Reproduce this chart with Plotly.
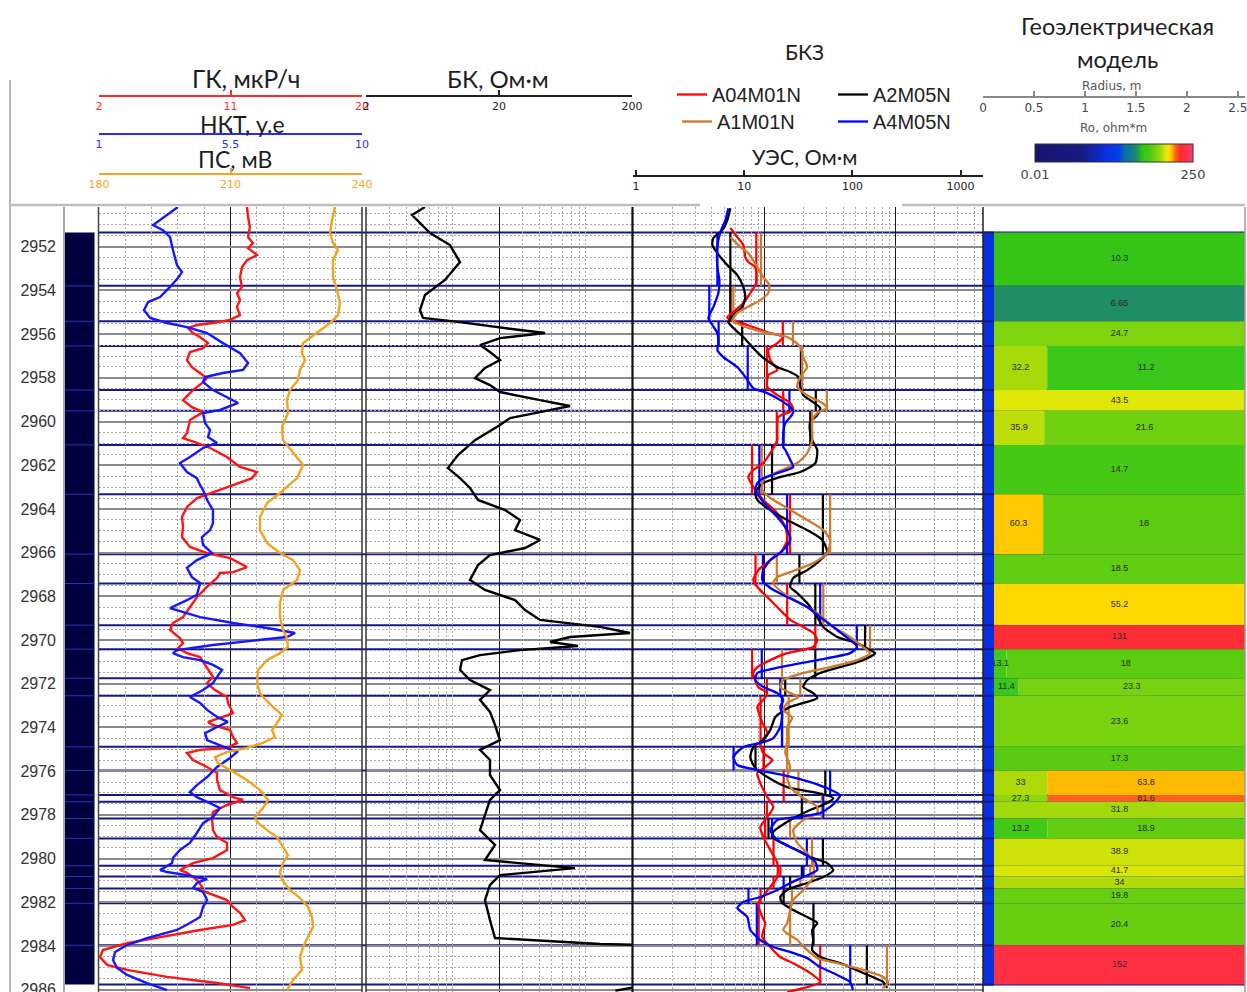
import math
import plotly.graph_objects as go
from plotly.colors import sample_colorscale

W, H = 1247, 992


def px(x):
    return x / W


def py(y):
    return 1 - y / H


# ---------------- depth window ----------------
DEPTH_TOP, DEPTH_BOTTOM = 2950.18, 2986.11

# ---------------- track 1: GK, NKT, PS (depth, value) ----------------
GK = [(2950.18, 12.13), (2950.64, 12.20), (2951.10, 12.33), (2951.56, 12.20), (2951.83, 12.54), (2952.06, 12.20),
      (2952.38, 12.81), (2952.61, 12.13), (2952.93, 11.79), (2953.39, 11.65), (2953.84, 11.79), (2954.12, 11.44),
      (2954.44, 11.65), (2954.76, 11.44), (2955.13, 11.65), (2955.35, 10.97), (2955.49, 9.80), (2955.58, 8.71),
      (2955.72, 8.09), (2955.95, 8.43), (2956.13, 8.91), (2956.41, 9.46), (2956.64, 9.12), (2956.82, 8.23),
      (2957.19, 8.02), (2957.51, 8.36), (2957.78, 8.91), (2958.01, 9.39), (2958.24, 9.05), (2958.56, 8.43),
      (2959.02, 7.75), (2959.34, 8.36), (2959.57, 9.12), (2959.93, 8.23), (2960.53, 8.02), (2960.76, 7.75),
      (2960.98, 8.71), (2961.21, 9.60), (2961.62, 10.76), (2962.08, 11.65), (2962.31, 12.81), (2962.59, 12.47),
      (2962.91, 11.17), (2963.23, 9.80), (2963.50, 8.71), (2963.91, 8.02), (2964.37, 7.68), (2964.83, 7.75),
      (2965.29, 7.68), (2965.74, 8.23), (2966.02, 9.39), (2966.25, 10.97), (2966.66, 12.13), (2966.89, 11.17),
      (2966.93, 10.28), (2967.16, 10.08), (2967.57, 9.39), (2968.03, 8.71), (2968.49, 8.23), (2968.95, 7.75),
      (2969.22, 7.06), (2969.54, 6.86), (2969.91, 7.54), (2970.14, 7.75), (2970.37, 7.41), (2970.60, 8.02),
      (2970.78, 8.91), (2971.24, 9.39), (2971.69, 9.80), (2971.97, 9.39), (2972.29, 9.94), (2972.61, 10.76),
      (2972.88, 10.83), (2973.34, 11.17), (2973.52, 10.49), (2973.75, 9.46), (2973.89, 9.80), (2974.12, 10.97),
      (2974.44, 11.17), (2974.71, 11.44), (2974.94, 10.76), (2975.03, 8.91), (2975.17, 8.02), (2975.49, 8.43),
      (2975.81, 9.39), (2976.09, 10.08), (2976.41, 10.08), (2976.87, 10.28), (2977.19, 11.17), (2977.32, 11.86),
      (2977.55, 10.76), (2977.87, 9.80), (2978.15, 9.73), (2978.70, 9.80), (2979.02, 10.08), (2979.29, 10.76),
      (2979.61, 10.76), (2979.98, 9.80), (2980.21, 8.43), (2980.53, 7.54), (2980.66, 8.02), (2980.98, 8.71),
      (2981.30, 9.05), (2981.44, 8.91), (2981.67, 9.80), (2981.90, 10.76), (2982.22, 11.17), (2982.49, 11.65),
      (2982.82, 11.99), (2983.04, 11.17), (2983.27, 8.91), (2983.59, 6.17), (2983.87, 3.92), (2984.19, 2.27),
      (2984.51, 2.07), (2984.87, 2.55), (2985.10, 3.92), (2985.42, 6.65), (2985.70, 10.08), (2985.93, 12.33)]

NKT = [(2950.18, 3.70), (2951.01, 2.85), (2951.24, 3.19), (2951.56, 3.43), (2952.15, 3.53), (2952.84, 3.67),
       (2953.16, 3.84), (2953.43, 3.70), (2953.84, 3.43), (2954.30, 3.09), (2954.53, 2.68), (2954.90, 2.54),
       (2955.26, 2.75), (2955.49, 3.33), (2955.68, 4.01), (2955.95, 4.70), (2956.41, 5.24), (2956.87, 5.83),
       (2957.32, 6.10), (2957.64, 5.93), (2957.78, 5.24), (2957.96, 4.63), (2958.19, 4.56), (2958.56, 4.90),
       (2959.15, 5.76), (2959.47, 5.14), (2959.61, 4.56), (2960.07, 4.63), (2960.39, 4.80), (2960.71, 4.73),
       (2960.98, 5.04), (2961.21, 4.56), (2961.62, 4.11), (2961.90, 3.77), (2962.31, 4.01), (2962.59, 4.35),
       (2962.91, 4.46), (2963.13, 4.56), (2963.59, 4.70), (2964.05, 4.90), (2964.65, 4.90), (2964.97, 4.80),
       (2965.29, 4.52), (2965.65, 4.56), (2966.02, 4.87), (2966.34, 4.35), (2966.70, 4.01), (2967.12, 4.18),
       (2967.39, 4.46), (2967.94, 4.35), (2968.17, 4.01), (2968.54, 3.43), (2968.95, 4.46), (2969.22, 5.59),
       (2969.45, 6.75), (2969.68, 7.71), (2969.86, 7.43), (2970.05, 6.17), (2970.23, 4.90), (2970.46, 3.67),
       (2970.60, 3.53), (2970.78, 3.87), (2970.92, 4.46), (2971.14, 4.90), (2971.37, 5.21), (2971.69, 5.04),
       (2971.97, 4.90), (2972.29, 4.56), (2972.61, 4.11), (2972.88, 4.46), (2973.20, 4.70), (2973.52, 5.04),
       (2973.75, 5.41), (2973.98, 5.04), (2974.26, 4.63), (2974.58, 4.70), (2974.81, 5.14), (2975.13, 5.72),
       (2975.40, 5.48), (2975.81, 5.04), (2976.27, 4.70), (2976.64, 4.35), (2976.96, 4.11), (2977.19, 4.35),
       (2977.41, 4.70), (2977.69, 5.14), (2978.10, 4.90), (2978.38, 4.56), (2978.83, 4.35), (2979.29, 4.11),
       (2979.61, 3.77), (2979.98, 3.53), (2980.21, 3.50), (2980.53, 3.09), (2980.62, 3.33), (2980.76, 4.01),
       (2980.89, 4.46), (2980.94, 4.70), (2981.12, 4.35), (2981.35, 4.22), (2981.53, 4.56), (2981.90, 4.70),
       (2982.22, 4.56), (2982.68, 4.46), (2982.95, 4.11), (2983.27, 3.67), (2983.64, 2.64), (2983.96, 1.96),
       (2984.28, 1.55), (2984.65, 1.48), (2985.01, 1.62), (2985.33, 1.96), (2985.70, 2.64), (2986.02, 3.33)]

PS = [(2950.18, 233.84), (2950.78, 233.16), (2951.37, 232.70), (2951.83, 233.38), (2952.15, 234.53),
      (2952.61, 233.38), (2953.39, 233.38), (2953.98, 234.30), (2954.58, 234.98), (2955.13, 234.53),
      (2955.49, 232.70), (2955.95, 229.73), (2956.41, 226.54), (2956.87, 226.31), (2957.19, 227.00),
      (2957.64, 225.86), (2958.10, 225.40), (2958.56, 223.57), (2959.02, 222.89), (2959.61, 223.12),
      (2960.25, 221.75), (2960.85, 221.98), (2961.44, 224.26), (2961.99, 226.54), (2962.59, 225.17),
      (2963.27, 221.29), (2963.73, 218.33), (2964.37, 216.73), (2964.97, 216.73), (2965.56, 218.33),
      (2966.02, 221.29), (2966.34, 224.26), (2966.80, 225.86), (2967.25, 225.17), (2967.71, 221.98),
      (2968.31, 221.29), (2968.95, 221.29), (2969.54, 221.98), (2969.91, 222.89), (2970.32, 223.12),
      (2970.60, 221.29), (2970.92, 218.33), (2971.37, 216.27), (2971.97, 216.05), (2972.43, 216.73),
      (2972.61, 217.41), (2973.06, 219.70), (2973.43, 221.75), (2973.79, 220.61), (2974.12, 219.47),
      (2974.44, 220.15), (2974.71, 217.41), (2974.94, 213.76), (2975.13, 209.20), (2975.36, 206.46),
      (2975.63, 207.15), (2975.95, 209.89), (2976.41, 213.76), (2976.87, 216.73), (2977.32, 218.56),
      (2977.69, 217.41), (2978.10, 215.59), (2978.33, 216.05), (2978.70, 218.33), (2979.02, 220.61),
      (2979.48, 221.98), (2979.85, 223.12), (2980.21, 221.98), (2980.62, 221.29), (2980.98, 221.75),
      (2981.44, 223.57), (2981.81, 225.86), (2982.22, 227.68), (2982.68, 228.59), (2983.13, 228.82),
      (2983.59, 227.68), (2984.05, 226.54), (2984.51, 225.86), (2985.10, 226.31), (2985.56, 224.26),
      (2986.02, 222.89)]

# ---------------- track 2: BK, Ohm*m ----------------
BK = [(2950.18, 5.55), (2950.55, 4.44), (2951.37, 6.06), (2951.92, 8.56), (2952.70, 10.18), (2953.52, 7.85),
      (2954.21, 5.55), (2954.90, 5.09), (2955.26, 5.37), (2955.45, 10.18), (2955.81, 28.77), (2955.95, 44.4),
      (2956.18, 20.35), (2956.50, 14.39), (2956.82, 17.11), (2957.19, 20.35), (2957.55, 15.69), (2958.01, 13.20),
      (2958.33, 17.11), (2958.65, 20.35), (2959.02, 40.7), (2959.29, 68.4), (2959.57, 40.7), (2959.84, 24.2),
      (2960.16, 20.35), (2960.85, 13.20), (2961.53, 9.83), (2962.13, 8.27), (2962.59, 10.18), (2963.04, 12.11),
      (2963.59, 13.90), (2964.05, 22.2), (2964.51, 28.77), (2964.97, 26.4), (2965.42, 40.7), (2965.79, 31.4),
      (2966.11, 17.11), (2966.57, 13.90), (2967.25, 12.11), (2967.71, 15.69), (2968.17, 26.4), (2968.63, 31.4),
      (2969.08, 40.7), (2969.40, 114.9), (2969.68, 193.0), (2969.86, 68.4), (2970.09, 48.4), (2970.27, 78.5),
      (2970.46, 28.77), (2970.69, 14.39), (2970.92, 10.54), (2971.37, 10.18), (2971.83, 12.11), (2972.29, 17.11),
      (2972.74, 14.39), (2973.29, 17.11), (2973.89, 18.66), (2974.58, 20.35), (2975.03, 14.39), (2975.49, 17.11),
      (2976.18, 17.11), (2976.87, 20.35), (2977.32, 17.11), (2978.01, 15.69), (2978.70, 14.39), (2979.38, 18.66),
      (2980.07, 15.69), (2980.44, 74.5), (2980.76, 20.35), (2981.21, 17.11), (2981.90, 15.69), (2982.82, 17.11),
      (2983.64, 18.66), (2983.91, 114.9), (2984.00, 400.0), (2985.60, 400.0), (2986.05, 150.0)]

# ---------------- track 3: BKZ probes, Ohm*m ----------------
A04M01N = [(2951.14, 5.53), (2951.56, 6.25), (2951.92, 6.94), (2952.47, 7.19), (2952.70, 7.58), (2952.93, 8.57),
           (2953.66, 8.72), (2954.12, 7.85), (2954.58, 6.94), (2954.99, 5.83), (2955.22, 5.24), (2955.35, 5.53),
           (2955.58, 7.45), (2955.95, 11.15), (2956.13, 14.01), (2956.41, 12.61), (2956.73, 10.76), (2957.19, 11.15),
           (2957.64, 12.61), (2957.87, 10.76), (2958.42, 10.58), (2958.79, 12.61), (2959.15, 15.83), (2959.47, 16.69),
           (2959.61, 15.02), (2959.80, 12.83), (2960.53, 12.61), (2960.85, 12.61), (2961.44, 11.15), (2961.90, 9.86),
           (2962.22, 8.27), (2962.54, 7.58), (2962.99, 8.27), (2963.59, 9.86), (2964.19, 12.61), (2964.83, 14.51),
           (2965.42, 15.02), (2966.02, 13.29), (2966.34, 11.15), (2966.80, 9.03), (2967.25, 8.27), (2967.57, 8.88),
           (2968.17, 11.15), (2968.77, 14.01), (2969.08, 15.83), (2969.40, 19.89), (2969.68, 23.70), (2970.00, 25.42),
           (2970.32, 23.70), (2970.60, 15.02), (2970.92, 11.15), (2971.24, 8.88), (2971.51, 8.27), (2972.15, 9.03),
           (2972.43, 10.58), (2972.74, 9.86), (2973.06, 8.88), (2973.52, 9.36), (2973.79, 9.69), (2974.26, 10.58),
           (2974.71, 9.36), (2975.17, 9.86), (2975.49, 11.55), (2975.81, 10.21), (2976.09, 8.88), (2976.55, 9.36),
           (2977.19, 10.58), (2977.64, 11.75), (2978.10, 10.58), (2978.56, 9.36), (2979.02, 9.86), (2979.61, 11.15),
           (2980.21, 12.61), (2980.85, 12.61), (2981.30, 11.15), (2981.76, 9.69), (2982.04, 9.03), (2982.68, 9.69),
           (2982.95, 10.21), (2983.59, 9.69), (2984.05, 11.15), (2984.51, 13.29), (2984.79, 16.69), (2985.24, 22.48),
           (2985.65, 26.79), (2986.11, 15.02)]

A1M01N = [(2951.56, 5.53), (2952.01, 6.59), (2952.29, 7.58), (2952.93, 8.88), (2953.39, 9.86), (2953.75, 10.96),
          (2954.12, 10.76), (2954.44, 9.36), (2954.76, 7.45), (2955.03, 6.25), (2955.35, 5.73), (2955.58, 6.59),
          (2955.90, 9.86), (2956.13, 15.02), (2956.36, 17.29), (2956.59, 18.87), (2957.05, 19.89), (2957.51, 21.33),
          (2957.96, 18.87), (2958.42, 17.90), (2958.88, 22.48), (2959.15, 27.8), (2959.38, 30.29), (2959.61, 25.42),
          (2959.93, 23.28), (2960.53, 23.28), (2960.85, 23.28), (2961.44, 21.33), (2961.90, 17.90), (2962.31, 12.61),
          (2962.68, 9.86), (2963.13, 9.69), (2963.50, 11.15), (2963.96, 15.02), (2964.51, 21.33), (2964.97, 28.3),
          (2965.42, 31.92), (2966.02, 30.29), (2966.48, 23.70), (2966.89, 15.83), (2967.12, 12.61), (2967.39, 11.75),
          (2967.85, 14.01), (2968.31, 18.87), (2968.77, 25.42), (2969.40, 33.65), (2969.86, 45.35), (2970.32, 56.9),
          (2970.60, 64.4), (2970.92, 51.3), (2971.24, 31.92), (2971.51, 19.89), (2971.83, 14.01), (2972.15, 13.29),
          (2972.43, 15.83), (2972.61, 18.22), (2972.88, 15.02), (2973.20, 14.01), (2973.56, 16.4), (2973.98, 15.02),
          (2974.58, 15.02), (2975.17, 14.51), (2975.81, 15.83), (2976.27, 15.02), (2976.73, 15.83), (2977.23, 19.89),
          (2977.64, 25.42), (2977.92, 25.42), (2978.24, 19.89), (2978.70, 16.69), (2979.29, 17.90), (2979.75, 21.33),
          (2980.21, 23.70), (2980.85, 23.70), (2981.44, 19.89), (2981.90, 16.69), (2982.36, 15.83), (2982.95, 15.02),
          (2983.27, 14.01), (2983.73, 17.90), (2984.19, 21.33), (2984.56, 25.42), (2984.79, 36.10), (2985.10, 56.9),
          (2985.42, 80.9), (2985.65, 88.4), (2985.93, 80.9)]

A2M05N = [(2950.24, 5.53), (2950.78, 5.24), (2951.24, 4.80), (2951.60, 4.10), (2951.92, 4.03), (2952.29, 4.40),
          (2952.84, 5.24), (2953.30, 6.25), (2953.84, 6.94), (2954.30, 7.19), (2954.76, 6.82), (2955.13, 5.83),
          (2955.45, 5.34), (2955.72, 5.83), (2956.13, 6.94), (2956.64, 8.27), (2957.09, 9.86), (2957.51, 12.61),
          (2957.73, 15.83), (2957.96, 18.22), (2958.42, 18.87), (2958.79, 19.89), (2959.11, 23.70), (2959.38, 26.79),
          (2959.70, 25.42), (2960.02, 22.48), (2960.53, 22.48), (2960.85, 23.28), (2961.30, 25.42), (2961.90, 24.6),
          (2962.31, 18.87), (2962.54, 13.29), (2962.82, 9.86), (2963.23, 8.57), (2963.59, 8.88), (2963.96, 10.58),
          (2964.51, 15.02), (2964.97, 21.33), (2965.42, 27.8), (2965.97, 30.29), (2966.34, 26.79), (2966.80, 21.33),
          (2967.16, 16.69), (2967.57, 15.83), (2967.85, 17.90), (2968.31, 21.33), (2968.95, 25.42), (2969.40, 28.3),
          (2969.86, 36.10), (2970.14, 51.3), (2970.46, 64.4), (2970.60, 70.3), (2970.92, 56.9), (2971.24, 38.05),
          (2971.51, 26.79), (2971.83, 21.33), (2972.15, 19.89), (2972.43, 23.70), (2972.66, 25.42), (2972.88, 19.89),
          (2973.06, 15.83), (2973.52, 12.2), (2974.12, 11.15), (2974.58, 9.86), (2974.90, 8.27), (2975.36, 7.85),
          (2975.86, 8.57), (2976.27, 10.58), (2976.73, 15.02), (2977.00, 25.42), (2977.23, 33.65), (2977.46, 30.29),
          (2977.78, 22.48), (2978.24, 15.83), (2978.79, 11.75), (2979.06, 11.75), (2979.47, 15.83), (2979.93, 22.48),
          (2980.21, 30.29), (2980.53, 33.65), (2980.85, 28.3), (2981.12, 21.33), (2981.44, 15.02), (2981.76, 13.29),
          (2982.04, 13.76), (2982.36, 16.69), (2982.68, 21.33), (2982.95, 25.42), (2983.27, 23.28), (2983.73, 23.70),
          (2984.19, 23.28), (2984.51, 26.79), (2984.79, 38.05), (2985.24, 56.9), (2985.65, 80.9), (2985.93, 86.8)]

A4M05N = [(2950.24, 5.34), (2950.78, 5.07), (2951.33, 4.64), (2952.01, 4.40), (2952.93, 4.40), (2953.52, 4.56),
          (2954.12, 4.48), (2954.76, 4.10), (2955.26, 3.76), (2955.58, 4.03), (2955.95, 4.40), (2956.41, 4.48),
          (2956.73, 4.40), (2957.05, 4.89), (2957.51, 6.25), (2957.96, 7.19), (2958.47, 8.27), (2958.70, 10.58),
          (2959.02, 13.29), (2959.34, 15.83), (2959.57, 16.69), (2959.80, 15.83), (2960.07, 14.51), (2960.53, 14.01),
          (2961.17, 14.01), (2961.30, 14.51), (2961.76, 15.83), (2962.08, 16.69), (2962.36, 12.61), (2962.59, 9.86),
          (2962.82, 8.88), (2963.13, 8.57), (2963.68, 9.86), (2964.37, 12.61), (2964.97, 15.02), (2965.42, 15.83),
          (2965.88, 14.01), (2966.34, 11.15), (2966.80, 9.86), (2967.25, 9.69), (2967.62, 11.15), (2968.03, 15.02),
          (2968.49, 21.33), (2968.95, 26.79), (2969.54, 36.10), (2970.32, 51.3), (2970.60, 45.35), (2970.92, 25.42),
          (2971.24, 13.29), (2971.51, 8.88), (2971.83, 8.57), (2972.15, 9.86), (2972.43, 12.61), (2972.74, 14.01),
          (2973.06, 13.29), (2973.43, 13.76), (2973.98, 13.29), (2974.49, 11.75), (2974.67, 9.86), (2974.90, 6.94),
          (2975.36, 5.83), (2975.72, 6.25), (2975.95, 8.88), (2976.18, 14.01), (2976.50, 22.48), (2976.78, 30.29),
          (2977.10, 38.05), (2977.32, 36.10), (2977.64, 31.92), (2977.92, 26.79), (2978.10, 17.90), (2978.24, 12.61),
          (2978.70, 11.15), (2979.15, 12.61), (2979.47, 15.83), (2979.75, 19.89), (2980.16, 24.6), (2980.53, 25.42),
          (2980.85, 19.89), (2981.12, 15.83), (2981.44, 12.61), (2981.76, 9.36), (2981.99, 6.94), (2982.26, 6.25),
          (2982.68, 7.45), (2983.27, 7.85), (2983.73, 9.36), (2984.05, 11.75), (2984.28, 15.83), (2984.56, 21.33),
          (2984.97, 26.79), (2985.33, 36.10), (2985.65, 45.35), (2986.02, 47.6)]

# apparent resistivity of each probe per model layer
STEP_A04M01N = [8.72, 5.53, 13.9, 10.5, 14.0, 12.5, 8.09, 15.8, 8.6, 15.0, 24.6, 8.1, 10.5, 9.4, 9.9,
                14.1, 14.1, 10.5, 10.2, 11.8, 13.3, 11.8, 9.4, 9.1, 26.8]
STEP_A1M01N = [9.47, 5.83, 16.6, 19.5, 30.1, 23.2, 9.6, 31.9, 12.5, 28.3, 64.4, 13.7, 18.9, 15.4, 15.0,
               18.3, 27.6, 27.6, 15.8, 23.2, 22.5, 18.9, 16.3, 15.8, 86.5]
STEP_A2M05N = [5.53, 5.53, 6.8, 19.1, 24.8, 22.5, 11.5, 28.1, 18.6, 24.6, 58.9, 24.6, 14.5, 13.7, 8.6,
               29.3, 19.4, 19.4, 10.8, 28.1, 19.4, 15.8, 14.1, 23.8, 60.8]
STEP_A4M05N = [4.4, 3.82, 4.5, 7.5, 15.6, 14.1, 9.2, 15.0, 9.8, 26.8, 51.0, 9.6, 13.3, 13.7, 5.85,
               31.9, 28.3, 28.3, 11.5, 21.2, 20.0, 14.1, 7.6, 8.8, 45.4]

# ---------------- geoelectric model ----------------
LAYER_BOUNDS = [2951.35, 2953.79, 2955.41, 2956.54, 2958.56, 2959.51, 2961.07, 2963.33, 2966.07, 2967.41,
                2969.32, 2970.42, 2971.75, 2972.55, 2974.89, 2975.97, 2977.09, 2977.40, 2978.17, 2979.08,
                2980.33, 2980.82, 2981.37, 2982.05, 2983.97, 2985.77]
LAYER_RT = [10.3, 6.65, 24.7, 11.2, 43.5, 21.6, 14.7, 18, 18.5, 55.2, 131, 18, 23.3, 23.6, 17.3,
            63.8, 81.6, 31.8, 18.9, 38.9, 41.7, 34, 19.8, 20.4, 152]
ZONE_RHO = [None, None, None, 32.2, None, 35.9, None, 60.3, None, None, None, 13.1, 11.4, None, None,
            33, 27.3, None, 13.2, None, None, None, None, None, None]
ZONE_RADIUS = [None, None, None, 0.63, None, 0.6, None, 0.59, None, None, None, 0.23, 0.35, None, None,
               0.63, 0.63, None, 0.63, None, None, None, None, None, None]
MUD_RHO = 1.0
BOREHOLE_RADIUS = 0.108
RADIUS_MAX = 2.57
RHO_MIN, RHO_MAX = 0.01, 250

RHO_COLORSCALE = [
    [0.000, "rgb(20,20,110)"], [0.300, "rgb(25,26,133)"], [0.450, "rgb(10,48,224)"],
    [0.530, "rgb(0,64,232)"], [0.570, "rgb(10,110,170)"], [0.640, "rgb(30,138,106)"],
    [0.680, "rgb(48,196,22)"], [0.700, "rgb(62,200,26)"], [0.720, "rgb(70,200,20)"],
    [0.740, "rgb(92,204,16)"], [0.770, "rgb(124,212,15)"], [0.795, "rgb(160,216,10)"],
    [0.805, "rgb(184,220,10)"], [0.823, "rgb(216,230,8)"], [0.835, "rgb(232,234,6)"],
    [0.850, "rgb(255,220,0)"], [0.862, "rgb(255,196,0)"], [0.867, "rgb(255,180,0)"],
    [0.889, "rgb(255,96,32)"], [0.920, "rgb(255,42,42)"], [0.950, "rgb(255,48,64)"],
    [1.000, "rgb(255,58,128)"],
]

# ---------------- styling ----------------
C_GK, C_NKT, C_PS = "#ff1414", "#1717ff", "#f4a21c"
C_RED, C_ORANGE, C_BLACK, C_BLUE = "#ff0000", "#d0792a", "#000000", "#0000ff"
LAYER_LINE = "#17178c"
HEAD_FONT = "Lato, Noto Sans, sans-serif"
NUM_FONT = "DejaVu Sans"


def split(pairs):
    return [p[1] for p in pairs], [p[0] for p in pairs]


def rho_color(v):
    t = (math.log10(v) - math.log10(RHO_MIN)) / (math.log10(RHO_MAX) - math.log10(RHO_MIN))
    return sample_colorscale(RHO_COLORSCALE, [min(max(t, 0), 1)])[0]


fig = go.Figure()

# track 1
for pairs, axis, color in [(NKT, "x2", C_NKT), (GK, "x", C_GK), (PS, "x3", C_PS)]:
    xs, ys = split(pairs)
    fig.add_trace(go.Scatter(x=xs, y=ys, xaxis=axis, yaxis="y", mode="lines",
                             line=dict(color=color, width=2.4), showlegend=False, hoverinfo="skip"))

# track 2
xs, ys = split(BK)
fig.add_trace(go.Scatter(x=xs, y=ys, xaxis="x4", yaxis="y", mode="lines",
                         line=dict(color=C_BLACK, width=2.4), showlegend=False, hoverinfo="skip"))

# header scale of the resistivity track
fig.add_trace(go.Scatter(x=[None], y=[None], xaxis="x5", yaxis="y", mode="lines",
                         showlegend=False, hoverinfo="skip"))

# track 3: probe steps per layer, then measured curves
layer_tops = LAYER_BOUNDS[:-1]
layer_bots = LAYER_BOUNDS[1:]
probes = [("A04M01N", A04M01N, STEP_A04M01N, C_RED, "legend"),
          ("A2M05N", A2M05N, STEP_A2M05N, C_BLACK, "legend"),
          ("A1M01N", A1M01N, STEP_A1M01N, C_ORANGE, "legend2"),
          ("A4M05N", A4M05N, STEP_A4M05N, C_BLUE, "legend2")]
for name, curve, steps, color, leg in probes:
    sx, sy = [], []
    for v, t, b in zip(steps, layer_tops, layer_bots):
        sx += [v, v, None]
        sy += [t, b, None]
    fig.add_trace(go.Scatter(x=sx, y=sy, xaxis="x6", yaxis="y", mode="lines",
                             line=dict(color=color, width=2.2), showlegend=False, hoverinfo="skip"))
for name, curve, steps, color, leg in probes:
    xs, ys = split(curve)
    fig.add_trace(go.Scatter(x=xs, y=ys, xaxis="x6", yaxis="y", mode="lines", name=name,
                             line=dict(color=color, width=2.3, shape="spline", smoothing=0.6),
                             legend=leg, hoverinfo="skip"))

# geoelectric model cells
shapes = []
lab_x, lab_y, lab_t = [], [], []
for i, (t, b) in enumerate(zip(layer_tops, layer_bots)):
    r_in = BOREHOLE_RADIUS
    if ZONE_RHO[i] is not None:
        shapes.append(dict(type="rect", xref="x7", yref="y2", x0=BOREHOLE_RADIUS, x1=ZONE_RADIUS[i],
                           y0=t, y1=b, fillcolor=rho_color(ZONE_RHO[i]), line=dict(width=0), layer="between"))
        lab_x.append((BOREHOLE_RADIUS + ZONE_RADIUS[i]) / 2)
        lab_y.append((t + b) / 2)
        lab_t.append(f"{ZONE_RHO[i]:g}")
        r_in = ZONE_RADIUS[i]
    shapes.append(dict(type="rect", xref="x7", yref="y2", x0=r_in, x1=RADIUS_MAX, y0=t, y1=b,
                       fillcolor=rho_color(LAYER_RT[i]), line=dict(width=0), layer="between"))
    lab_x.append((r_in + RADIUS_MAX) / 2)
    lab_y.append((t + b) / 2)
    lab_t.append(f"{LAYER_RT[i]:g}")

fig.add_trace(go.Scatter(x=lab_x, y=lab_y, text=lab_t, mode="text", xaxis="x7", yaxis="y2",
                         textfont=dict(family="Liberation Sans", size=9, color="#2a2a2a"),
                         showlegend=False, hoverinfo="skip"))

# colour scale of the model
lg_min, lg_max = math.log10(RHO_MIN), math.log10(RHO_MAX)
fig.add_trace(go.Scatter(
    x=[None, None], y=[None, None], xaxis="x7", yaxis="y2", mode="markers", showlegend=False,
    marker=dict(color=[lg_min, lg_max], cmin=lg_min, cmax=lg_max, colorscale=RHO_COLORSCALE, showscale=True,
                colorbar=dict(orientation="h", x=px(1114), xanchor="center", y=py(161), yanchor="middle",
                              len=158, lenmode="pixels", thickness=18, thicknessmode="pixels",
                              tickvals=[lg_min, lg_max], ticktext=["0.01", "250"], ticks="",
                              outlinewidth=1, outlinecolor="#333", xpad=0, ypad=0,
                              tickfont=dict(family=NUM_FONT, size=13, color="#444"))),
    hoverinfo="skip"))

# navy interval column and layer boundaries
shapes.append(dict(type="rect", xref="paper", yref="y2", x0=px(65), x1=px(94.5),
                   y0=LAYER_BOUNDS[0], y1=LAYER_BOUNDS[-1], fillcolor="#00003e", line=dict(width=0),
                   layer="between"))
for d in LAYER_BOUNDS[1:-1]:
    shapes.append(dict(type="line", xref="paper", yref="y2", x0=px(65), x1=px(94.5), y0=d, y1=d,
                       line=dict(color="#2536b0", width=1), layer="between"))
for d in LAYER_BOUNDS:
    shapes.append(dict(type="line", xref="paper", yref="y", x0=px(99), x1=px(1245), y0=d, y1=d,
                       line=dict(color=LAYER_LINE, width=2), layer="between"))

# borehole (mud) column of the model, drawn over the cell labels
shapes.append(dict(type="rect", xref="x7", yref="y2", x0=0, x1=BOREHOLE_RADIUS,
                   y0=LAYER_BOUNDS[0], y1=LAYER_BOUNDS[-1], fillcolor=rho_color(MUD_RHO),
                   line=dict(width=0), layer="above"))
for d in LAYER_BOUNDS:
    shapes.append(dict(type="line", xref="x7", yref="y2", x0=0, x1=BOREHOLE_RADIUS, y0=d, y1=d,
                       line=dict(color=LAYER_LINE, width=2), layer="above"))

# frame lines
frame = [
    (10, 80, 10, 992, "#b4b4b4", 2),
    (10, 205, 700, 205, "#bdbdbd", 2.5), (902, 205, 1245, 205, "#bdbdbd", 2.5),
    (64, 207, 64, 992, "#8a8a8a", 1.5), (98.5, 207, 98.5, 992, "#444", 1.5),
    (362, 207, 362, 992, "#333", 1.5), (366, 207, 366, 992, "#333", 1.5),
    (632.5, 207, 632.5, 992, "#111", 2.2), (983, 207, 983, 992, "#222", 1.5),
    (1245, 207, 1245, 992, "#999", 1.5),
]
for x0, y0, x1, y1, c, w in frame:
    shapes.append(dict(type="line", xref="paper", yref="paper", x0=px(x0), y0=py(y0), x1=px(x1), y1=py(y1),
                       line=dict(color=c, width=w), layer="above"))

# header titles
annotations = []
titles = [
    ("ГК, мкР/ч", 246, 79, 24.5), ("НКТ, у.е", 242, 124, 23), ("ПС, мВ", 235, 159, 23),
    ("БК, Ом·м", 498, 79, 24), ("БКЗ", 804, 52, 21), ("УЭС, Ом·м", 805, 157, 21.5),
    ("Геоэлектрическая", 1117, 26, 23.5), ("модель", 1117, 59, 23.5),
]
for text, x, y, size in titles:
    annotations.append(dict(text=text, x=px(x), y=py(y), xref="paper", yref="paper", showarrow=False,
                            xanchor="center", yanchor="middle",
                            font=dict(family=HEAD_FONT, size=size, color="#1e1e1e")))
for text, x, y in [("Radius, m", 1112, 86), ("Ro, ohm*m", 1113, 128)]:
    annotations.append(dict(text=text, x=px(x), y=py(y), xref="paper", yref="paper", showarrow=False,
                            xanchor="center", yanchor="middle", font=dict(family=NUM_FONT, size=12, color="#555")))

MAIN_DOMAIN = [0, py(207)]
grid_minor = dict(showgrid=True, gridcolor="#a9a9a9", gridwidth=1, griddash="2px,2px")


def header_axis(color, position, tickvals, ticktext=None, **kw):
    ax = dict(anchor="free", position=position, side="bottom", tickmode="array", tickvals=tickvals,
              ticks="inside", ticklen=5, tickwidth=1.5, tickcolor=color, showline=True, linecolor=color,
              linewidth=2, tickfont=dict(family=NUM_FONT, size=11, color=color), zeroline=False,
              fixedrange=True, ticklabeloverflow="allow")
    if ticktext is not None:
        ax["ticktext"] = ticktext
    ax.update(kw)
    return ax


log_minor_bk = [3, 4, 5, 6, 7, 8, 9, 30, 40, 50, 60, 70, 80, 90]
log_minor_bkz = [2, 3, 4, 5, 6, 7, 8, 9, 20, 30, 40, 50, 60, 70, 80, 90, 200, 300, 400]
legend_font = dict(family="Liberation Sans", size=20, color="#222")

fig.update_layout(
    width=W, height=H, autosize=False,
    margin=dict(l=0, r=0, t=0, b=0, pad=0, autoexpand=False),
    paper_bgcolor="white", plot_bgcolor="white",
    showlegend=True,
    xaxis=header_axis("#ff2a2a", py(96), [2, 11, 20], domain=[px(99), px(362)], range=[2, 20],
                      showgrid=True, gridcolor="#1a1a1a", gridwidth=1,
                      minor=dict(tick0=2, dtick=1.8, **grid_minor)),
    xaxis2=header_axis("#2a2aff", py(134), [1, 5.5, 10], overlaying="x", range=[1, 10], showgrid=False),
    xaxis3=header_axis("#f5a623", py(174), [180, 210, 240], overlaying="x", range=[180, 240], showgrid=False),
    xaxis4=header_axis("#222222", py(96), [2, 20, 200], ["2", "20", "200"], domain=[px(366), px(632)],
                       type="log", range=[math.log10(2), math.log10(200)],
                       showgrid=True, gridcolor="#1a1a1a", gridwidth=1,
                       minor=dict(tickmode="array", tickvals=log_minor_bk, **grid_minor)),
    xaxis5=header_axis("#222222", py(176), [1, 10, 100, 1000], ["1", "10", "100", "1000"],
                       overlaying="x6", type="log", range=[-0.028, 3.207], showgrid=False),
    xaxis6=dict(domain=[px(633), px(983)], type="log", range=[0, 2.67], anchor="y",
                showticklabels=False, ticks="", showline=False, zeroline=False, fixedrange=True,
                tickmode="array", tickvals=[1, 10, 100], showgrid=True, gridcolor="#1a1a1a", gridwidth=1,
                minor=dict(tickmode="array", tickvals=log_minor_bkz, **grid_minor)),
    xaxis7=header_axis("#888888", py(97), [0, 0.5, 1, 1.5, 2, 2.5], ["0", "0.5", "1", "1.5", "2", "2.5"],
                       domain=[px(983), px(1245)], range=[0, RADIUS_MAX], showgrid=False,
                       tickfont=dict(family=NUM_FONT, size=12, color="#444")),
    yaxis=dict(domain=MAIN_DOMAIN, range=[DEPTH_BOTTOM, DEPTH_TOP], anchor="free", position=px(56),
               side="left", tickmode="linear", tick0=2952, dtick=2, ticks="", showline=False,
               zeroline=False, fixedrange=True, ticklabeloverflow="allow",
               tickfont=dict(family="Liberation Sans", size=16, color="#333"),
               showgrid=True, gridcolor="#8c8c8c", gridwidth=2,
               minor=dict(tick0=2952, dtick=0.5, **grid_minor)),
    yaxis2=dict(domain=MAIN_DOMAIN, range=[DEPTH_BOTTOM, DEPTH_TOP], anchor="x7", visible=False,
                showgrid=False, fixedrange=True),
    legend=dict(orientation="h", x=px(672), y=py(75), xanchor="left", yanchor="top",
                entrywidth=116, entrywidthmode="pixels", bgcolor="rgba(0,0,0,0)",
                font=legend_font, traceorder="normal"),
    legend2=dict(orientation="h", x=px(677), y=py(102), xanchor="left", yanchor="top",
                 entrywidth=111, entrywidthmode="pixels", bgcolor="rgba(0,0,0,0)",
                 font=legend_font, traceorder="normal"),
    shapes=shapes,
    annotations=annotations,
)

fig.write_html("out.html")
